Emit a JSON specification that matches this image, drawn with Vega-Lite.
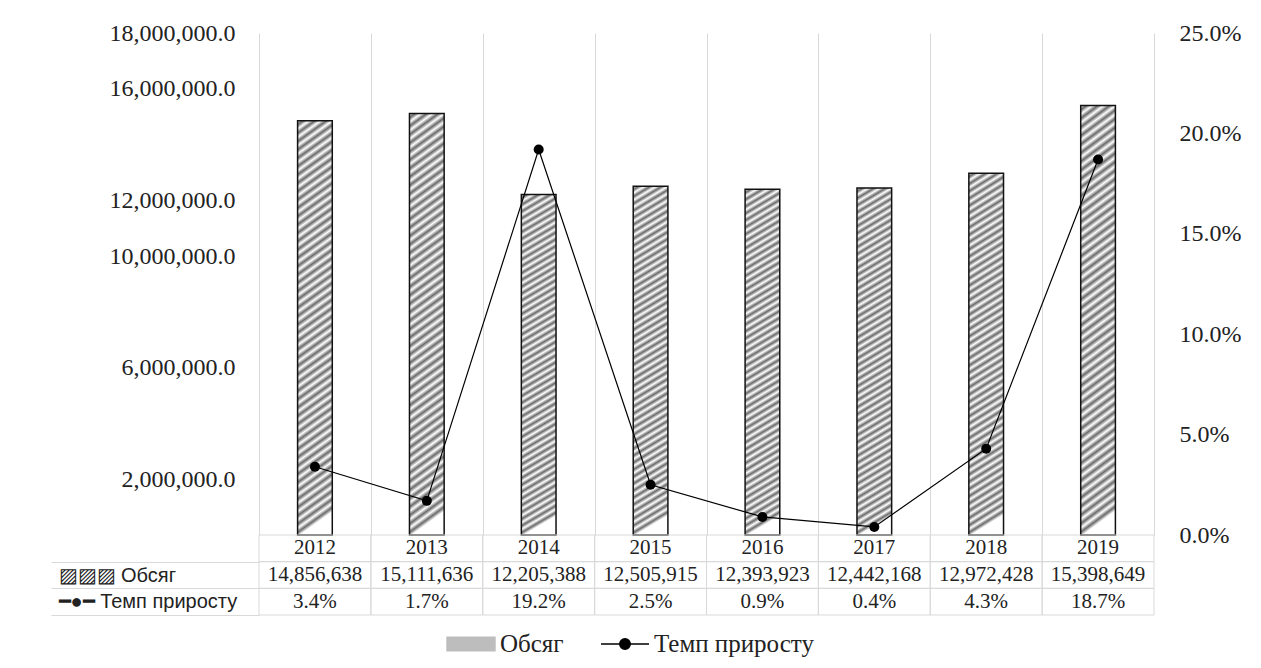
{
  "$schema": "https://vega.github.io/schema/vega-lite/v6.json",
  "background": "white",
  "padding": {"left": 50, "top": 21, "right": 20, "bottom": 5},
  "bounds": "flush",
  "data": {
    "values": [
      {"year": "2012", "volume": 14856638, "rate": 0.034},
      {"year": "2013", "volume": 15111636, "rate": 0.017},
      {"year": "2014", "volume": 12205388, "rate": 0.192},
      {"year": "2015", "volume": 12505915, "rate": 0.025},
      {"year": "2016", "volume": 12393923, "rate": 0.009},
      {"year": "2017", "volume": 12442168, "rate": 0.004},
      {"year": "2018", "volume": 12972428, "rate": 0.043},
      {"year": "2019", "volume": 15398649, "rate": 0.187}
    ]
  },
  "spacing": 0,
  "vconcat": [
    {
      "width": 895,
      "height": 502,
      "layer": [
        {
          "mark": {
            "type": "bar",
            "width": {"band": 0.31},
            "stroke": "#111111",
            "strokeWidth": 1.5,
            "fill": {
              "gradient": "linear", "x1": 0, "y1": 0, "x2": 0.06, "y2": 1,
              "stops": [
                {"offset": 0.00, "color": "#ffffff"}, {"offset": 0.01, "color": "#6a6a6a"},
                {"offset": 0.02, "color": "#ffffff"}, {"offset": 0.03, "color": "#6a6a6a"},
                {"offset": 0.04, "color": "#ffffff"}, {"offset": 0.05, "color": "#6a6a6a"},
                {"offset": 0.06, "color": "#ffffff"}, {"offset": 0.07, "color": "#6a6a6a"},
                {"offset": 0.08, "color": "#ffffff"}, {"offset": 0.09, "color": "#6a6a6a"},
                {"offset": 0.10, "color": "#ffffff"}, {"offset": 0.11, "color": "#6a6a6a"},
                {"offset": 0.12, "color": "#ffffff"}, {"offset": 0.13, "color": "#6a6a6a"},
                {"offset": 0.14, "color": "#ffffff"}, {"offset": 0.15, "color": "#6a6a6a"},
                {"offset": 0.16, "color": "#ffffff"}, {"offset": 0.17, "color": "#6a6a6a"},
                {"offset": 0.18, "color": "#ffffff"}, {"offset": 0.19, "color": "#6a6a6a"},
                {"offset": 0.20, "color": "#ffffff"}, {"offset": 0.21, "color": "#6a6a6a"},
                {"offset": 0.22, "color": "#ffffff"}, {"offset": 0.23, "color": "#6a6a6a"},
                {"offset": 0.24, "color": "#ffffff"}, {"offset": 0.25, "color": "#6a6a6a"},
                {"offset": 0.26, "color": "#ffffff"}, {"offset": 0.27, "color": "#6a6a6a"},
                {"offset": 0.28, "color": "#ffffff"}, {"offset": 0.29, "color": "#6a6a6a"},
                {"offset": 0.30, "color": "#ffffff"}, {"offset": 0.31, "color": "#6a6a6a"},
                {"offset": 0.32, "color": "#ffffff"}, {"offset": 0.33, "color": "#6a6a6a"},
                {"offset": 0.34, "color": "#ffffff"}, {"offset": 0.35, "color": "#6a6a6a"},
                {"offset": 0.36, "color": "#ffffff"}, {"offset": 0.37, "color": "#6a6a6a"},
                {"offset": 0.38, "color": "#ffffff"}, {"offset": 0.39, "color": "#6a6a6a"},
                {"offset": 0.40, "color": "#ffffff"}, {"offset": 0.41, "color": "#6a6a6a"},
                {"offset": 0.42, "color": "#ffffff"}, {"offset": 0.43, "color": "#6a6a6a"},
                {"offset": 0.44, "color": "#ffffff"}, {"offset": 0.45, "color": "#6a6a6a"},
                {"offset": 0.46, "color": "#ffffff"}, {"offset": 0.47, "color": "#6a6a6a"},
                {"offset": 0.48, "color": "#ffffff"}, {"offset": 0.49, "color": "#6a6a6a"},
                {"offset": 0.50, "color": "#ffffff"}, {"offset": 0.51, "color": "#6a6a6a"},
                {"offset": 0.52, "color": "#ffffff"}, {"offset": 0.53, "color": "#6a6a6a"},
                {"offset": 0.54, "color": "#ffffff"}, {"offset": 0.55, "color": "#6a6a6a"},
                {"offset": 0.56, "color": "#ffffff"}, {"offset": 0.57, "color": "#6a6a6a"},
                {"offset": 0.58, "color": "#ffffff"}, {"offset": 0.59, "color": "#6a6a6a"},
                {"offset": 0.60, "color": "#ffffff"}, {"offset": 0.61, "color": "#6a6a6a"},
                {"offset": 0.62, "color": "#ffffff"}, {"offset": 0.63, "color": "#6a6a6a"},
                {"offset": 0.64, "color": "#ffffff"}, {"offset": 0.65, "color": "#6a6a6a"},
                {"offset": 0.66, "color": "#ffffff"}, {"offset": 0.67, "color": "#6a6a6a"},
                {"offset": 0.68, "color": "#ffffff"}, {"offset": 0.69, "color": "#6a6a6a"},
                {"offset": 0.70, "color": "#ffffff"}, {"offset": 0.71, "color": "#6a6a6a"},
                {"offset": 0.72, "color": "#ffffff"}, {"offset": 0.73, "color": "#6a6a6a"},
                {"offset": 0.74, "color": "#ffffff"}, {"offset": 0.75, "color": "#6a6a6a"},
                {"offset": 0.76, "color": "#ffffff"}, {"offset": 0.77, "color": "#6a6a6a"},
                {"offset": 0.78, "color": "#ffffff"}, {"offset": 0.79, "color": "#6a6a6a"},
                {"offset": 0.80, "color": "#ffffff"}, {"offset": 0.81, "color": "#6a6a6a"},
                {"offset": 0.82, "color": "#ffffff"}, {"offset": 0.83, "color": "#6a6a6a"},
                {"offset": 0.84, "color": "#ffffff"}, {"offset": 0.85, "color": "#6a6a6a"},
                {"offset": 0.86, "color": "#ffffff"}, {"offset": 0.87, "color": "#6a6a6a"},
                {"offset": 0.88, "color": "#ffffff"}, {"offset": 0.89, "color": "#6a6a6a"},
                {"offset": 0.90, "color": "#ffffff"}, {"offset": 0.91, "color": "#6a6a6a"},
                {"offset": 0.92, "color": "#ffffff"}, {"offset": 0.93, "color": "#6a6a6a"},
                {"offset": 0.94, "color": "#ffffff"}, {"offset": 0.95, "color": "#6a6a6a"},
                {"offset": 0.96, "color": "#ffffff"}, {"offset": 0.97, "color": "#6a6a6a"},
                {"offset": 0.98, "color": "#ffffff"}, {"offset": 0.99, "color": "#6a6a6a"},
                {"offset": 1.00, "color": "#ffffff"}
              ]
            }
          },
          "encoding": {
            "x": {
              "field": "year", "type": "nominal",
              "scale": {"type": "band", "paddingInner": 0, "paddingOuter": 0},
              "axis": {"title": null, "labels": false, "ticks": false, "domain": false, "grid": true, "tickBand": "extent", "gridColor": "#d9d9d9", "gridWidth": 1, "minExtent": 0, "maxExtent": 0}
            },
            "y": {
              "field": "volume", "type": "quantitative",
              "scale": {"domain": [0, 18000000], "nice": false},
              "axis": {
                "title": null, "values": [2000000, 6000000, 10000000, 12000000, 16000000, 18000000],
                "format": ",.1f", "grid": false, "domain": false, "ticks": false,
                "labelPadding": 24, "labelFont": "Liberation Serif", "labelFontSize": 24, "labelColor": "#222222"
              }
            }
          }
        },
        {
          "encoding": {
            "x": {"field": "year", "type": "nominal"},
            "y": {
              "field": "rate", "type": "quantitative",
              "scale": {"domain": [0, 0.25], "nice": false},
              "axis": {
                "title": null, "orient": "right", "values": [0, 0.05, 0.1, 0.15, 0.2, 0.25],
                "format": ".1%", "grid": false, "domain": false, "ticks": false,
                "labelPadding": 25, "labelFont": "Liberation Serif", "labelFontSize": 24, "labelColor": "#222222"
              }
            },
            "color": {
              "datum": "Темп приросту", "type": "nominal",
              "scale": {"domain": ["Обсяг", "Темп приросту"], "range": ["#bdbdbd", "#000000"]},
              "legend": {
                "title": null, "orient": "none", "legendX": 187, "legendY": 586, "direction": "horizontal",
                "labelFont": "Liberation Serif", "labelFontSize": 25, "labelColor": "#222222", "labelLimit": 400,
                "symbolSize": 2304, "labelOffset": 4, "columnPadding": 34,
                "encode": {
                  "symbols": {
                    "update": {
                      "shape": [
                        {"test": "datum.value === 'Обсяг'", "value": "M-1,-0.28H1V0.28H-1Z"},
                        {"value": "M-1,0H1M0.22,0A0.22,0.22,0,1,1,-0.22,0A0.22,0.22,0,1,1,0.22,0Z"}
                      ],
                      "fill": [
                        {"test": "datum.value === 'Обсяг'", "value": "#bdbdbd"},
                        {"value": "#000000"}
                      ],
                      "stroke": {"value": "#222222"},
                      "strokeWidth": {"value": 1.4},
                      "opacity": {"value": 1}
                    }
                  }
                }
              }
            }
          },
          "layer": [
            {"mark": {"type": "line", "strokeWidth": 1.2}},
            {"mark": {"type": "point", "filled": true, "size": 100, "opacity": 1}}
          ]
        }
      ],
      "resolve": {"scale": {"y": "independent"}}
    },
    {
      "width": 895,
      "height": 80,
      "layer": [
        {
          "mark": {"type": "rect", "fill": null, "stroke": "#d9d9d9", "strokeWidth": 1},
          "encoding": {
            "x": {
              "field": "year", "type": "nominal",
              "scale": {"type": "band", "paddingInner": 0, "paddingOuter": 0},
              "axis": null
            },
            "y": {
              "datum": "Рік", "type": "nominal",
              "scale": {"type": "band", "domain": ["Рік", "Обсяг", "Темп приросту"], "paddingInner": 0, "paddingOuter": 0},
              "axis": {
                "title": null, "domain": false, "grid": false,
                "ticks": true, "tickSize": 208, "tickColor": "#d9d9d9", "tickOffset": 13.33, "labelOffset": -13.33,
                "labelAlign": "left", "labelPadding": -7, "labelBaseline": "middle", "labelLimit": 300,
                "labelFont": "Liberation Sans", "labelFontSize": 20, "labelColor": "#222222",
                "labelExpr": "datum.value === 'Обсяг' ? '▨▨▨  Обсяг' : (datum.value === 'Темп приросту' ? '━●━  Темп приросту' : ' ')"
              }
            }
          }
        },
        {
          "mark": {"type": "rect", "fill": null, "stroke": "#d9d9d9", "strokeWidth": 1},
          "encoding": {
            "x": {"field": "year", "type": "nominal"},
            "y": {"datum": "Обсяг", "type": "nominal"}
          }
        },
        {
          "mark": {"type": "rect", "fill": null, "stroke": "#d9d9d9", "strokeWidth": 1},
          "encoding": {
            "x": {"field": "year", "type": "nominal"},
            "y": {"datum": "Темп приросту", "type": "nominal"}
          }
        },
        {
          "mark": {"type": "text", "font": "Liberation Serif", "fontSize": 21, "color": "#222222"},
          "encoding": {
            "x": {"field": "year", "type": "nominal"},
            "y": {"datum": "Рік", "type": "nominal"},
            "text": {"field": "year", "type": "nominal"}
          }
        },
        {
          "mark": {"type": "text", "font": "Liberation Serif", "fontSize": 21, "color": "#222222"},
          "encoding": {
            "x": {"field": "year", "type": "nominal"},
            "y": {"datum": "Обсяг", "type": "nominal"},
            "text": {"field": "volume", "type": "quantitative", "format": ",d"}
          }
        },
        {
          "mark": {"type": "text", "font": "Liberation Serif", "fontSize": 21, "color": "#222222"},
          "encoding": {
            "x": {"field": "year", "type": "nominal"},
            "y": {"datum": "Темп приросту", "type": "nominal"},
            "text": {"field": "rate", "type": "quantitative", "format": ".1%"}
          }
        }
      ]
    }
  ],
  "config": {
    "view": {"stroke": null}
  }
}
